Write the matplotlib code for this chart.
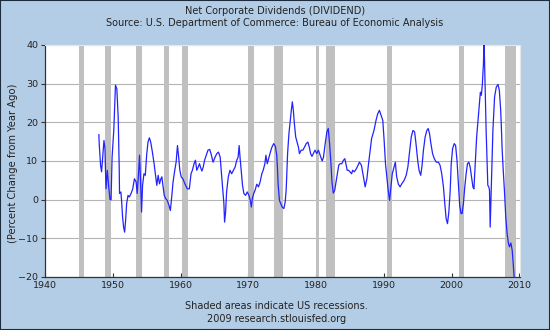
import matplotlib
matplotlib.use('Agg')
import matplotlib.pyplot as plt
from matplotlib.patches import Rectangle

# Net corporate dividends, percent change from year ago
years = [1947.95, 1948.0, 1948.2, 1948.35, 1948.5, 1948.7, 1948.85, 1949.0, 1949.2, 1949.4,
         1949.6, 1949.75, 1949.9, 1950.15, 1950.4, 1950.6, 1950.8, 1950.95, 1951.0, 1951.2,
         1951.3, 1951.45, 1951.6, 1951.75, 1951.9, 1952.05, 1952.25, 1952.45, 1952.7, 1952.95,
         1953.2, 1953.45, 1953.6, 1953.8, 1953.95, 1954.1, 1954.25, 1954.4, 1954.6, 1954.8,
         1955.0, 1955.2, 1955.4, 1955.6, 1955.85, 1956.1, 1956.35, 1956.5, 1956.7, 1956.9,
         1957.1, 1957.25, 1957.4, 1957.6, 1957.8, 1958.05, 1958.3, 1958.5, 1958.7, 1958.9,
         1959.15, 1959.35, 1959.55, 1959.7, 1959.9, 1960.1, 1960.35, 1960.65, 1961.0, 1961.3,
         1961.55, 1961.75, 1962.0, 1962.2, 1962.4, 1962.6, 1962.8, 1962.95, 1963.15, 1963.35,
         1963.55, 1963.8, 1964.05, 1964.3, 1964.5, 1964.8, 1965.1, 1965.35, 1965.6, 1965.85,
         1966.0, 1966.2, 1966.4, 1966.5, 1966.65, 1966.8, 1967.05, 1967.3, 1967.55, 1967.8,
         1968.05, 1968.3, 1968.5, 1968.65, 1968.8, 1969.0, 1969.15, 1969.35, 1969.6, 1969.85,
         1970.1, 1970.3, 1970.45, 1970.6, 1970.8, 1971.0, 1971.25, 1971.5, 1971.75, 1972.0,
         1972.2, 1972.45, 1972.6, 1972.8, 1973.0, 1973.2, 1973.45, 1973.75, 1974.0, 1974.2,
         1974.3, 1974.4, 1974.6, 1975.0, 1975.25, 1975.45, 1975.6, 1975.8, 1976.0, 1976.2,
         1976.35, 1976.5, 1976.65, 1976.8, 1977.0, 1977.2, 1977.4, 1977.55, 1977.8, 1978.05,
         1978.3, 1978.55, 1978.8, 1979.0, 1979.2, 1979.4, 1979.6, 1979.85, 1980.1, 1980.35,
         1980.6, 1980.9, 1981.1, 1981.35, 1981.6, 1981.8, 1982.0, 1982.2, 1982.35, 1982.55,
         1982.75, 1982.95, 1983.15, 1983.35, 1983.55, 1983.8, 1984.05, 1984.25, 1984.45, 1984.6,
         1984.8, 1985.0, 1985.25, 1985.4, 1985.65, 1985.95, 1986.2, 1986.4, 1986.7, 1987.0,
         1987.25, 1987.5, 1987.75, 1988.0, 1988.2, 1988.55, 1988.85, 1989.1, 1989.35, 1989.6,
         1989.85, 1990.05, 1990.25, 1990.45, 1990.65, 1990.85, 1991.05, 1991.25, 1991.5, 1991.7,
         1991.9, 1992.15, 1992.4, 1992.65, 1993.0, 1993.3, 1993.55, 1993.8, 1994.05, 1994.3,
         1994.55, 1994.75, 1995.0, 1995.2, 1995.45, 1995.65, 1995.85, 1996.1, 1996.35, 1996.55,
         1996.75, 1996.95, 1997.2, 1997.45, 1997.75, 1998.05, 1998.3, 1998.55, 1998.8, 1999.0,
         1999.2, 1999.4, 1999.6, 1999.8, 1999.95, 2000.15, 2000.4, 2000.6, 2000.8, 2001.0,
         2001.2, 2001.4, 2001.55, 2001.75, 2001.95, 2002.15, 2002.35, 2002.55, 2002.75, 2002.95,
         2003.15, 2003.3, 2003.5, 2003.7, 2003.9, 2004.1, 2004.25, 2004.4, 2004.55, 2004.7,
         2004.8, 2004.95, 2005.1, 2005.25, 2005.35, 2005.5, 2005.6, 2005.7, 2005.9, 2006.1,
         2006.35, 2006.6, 2006.85, 2007.05, 2007.25, 2007.35, 2007.45, 2007.6, 2007.8, 2008.0,
         2008.2, 2008.4, 2008.55, 2008.75, 2008.95, 2009.1, 2009.25]
pct_change = [16.8, 14.5, 8.9, 7.2, 10.6, 15.3, 13.2, 2.8, 7.6, 3.3,
              0.0, 0.0, 11.0, 17.9, 29.6, 28.7, 21.4, 8.4, 1.6, 2.0,
              -0.2, -4.5, -7.1, -8.4, -5.3, -1.0, 1.1, 0.7, 1.6, 2.8,
              5.4, 4.6, 1.6, 6.7, 11.5, 5.0, -3.2, 3.7, 6.7, 6.3,
              11.5, 14.9, 16.0, 14.9, 12.3, 9.3, 5.9, 3.7, 6.3, 4.1,
              5.4, 5.9, 3.7, 1.1, 0.3, -0.2, -1.5, -2.8, 0.7, 4.6,
              7.6, 9.7, 14.0, 11.5, 7.6, 5.9, 5.4, 4.1, 2.8, 2.8,
              6.7, 7.6, 9.3, 10.2, 7.6, 8.4, 9.3, 8.4, 7.4, 8.4,
              10.2, 11.5, 12.8, 13.0, 11.9, 9.7, 11.0, 11.9, 12.3, 11.0,
              7.6, 3.3, -1.0, -5.8, -3.2, 2.0, 5.9, 7.6, 6.7, 7.6,
              8.4, 10.2, 11.0, 14.0, 10.6, 6.7, 3.7, 1.6, 1.1, 2.0,
              1.1, -0.2, -1.9, 0.3, 1.6, 2.4, 4.0, 3.3, 4.6, 6.7,
              7.6, 9.3, 11.5, 9.3, 10.6, 11.9, 13.4, 14.5, 13.8, 11.5,
              8.4, 4.1, -0.2, -1.9, -2.3, -0.6, 2.8, 11.9, 17.1, 20.5,
              23.1, 25.3, 23.1, 19.7, 16.2, 14.9, 13.6, 11.9, 12.8, 12.8,
              13.6, 14.5, 14.9, 13.6, 11.9, 11.2, 11.9, 12.8, 11.9, 12.8,
              11.5, 10.0, 11.0, 14.5, 17.5, 18.4, 14.5, 9.3, 4.6, 1.7,
              2.4, 4.6, 6.7, 8.9, 9.3, 9.3, 10.2, 10.6, 8.9, 7.6,
              7.6, 7.2, 6.7, 7.6, 7.2, 8.0, 8.9, 9.7, 8.9, 5.9,
              3.3, 5.4, 9.3, 12.8, 15.8, 17.9, 20.5, 22.2, 23.1, 21.8,
              20.5, 15.3, 9.3, 5.9, 2.4, -0.2, 3.3, 6.7, 8.4, 9.7,
              5.9, 4.0, 3.3, 4.1, 5.0, 6.3, 8.4, 12.3, 16.2, 17.9,
              17.5, 14.5, 10.2, 7.6, 6.3, 8.9, 12.8, 16.2, 17.9, 18.4,
              17.1, 14.5, 11.9, 10.6, 9.7, 9.7, 8.9, 6.7, 3.3, -1.0,
              -4.9, -6.2, -3.2, 2.4, 9.3, 13.2, 14.5, 14.0, 10.2, 4.1,
              -1.5, -3.6, -3.6, -1.0, 3.3, 6.7, 9.3, 9.7, 8.4, 5.9,
              3.3, 2.8, 9.3, 16.2, 20.5, 24.8, 27.8, 27.0, 30.0, 35.1,
              41.0, 30.0, 17.9, 9.3, 3.7, 3.3, 2.4, -7.1, 5.9, 17.9,
              26.6, 29.1, 29.8, 28.3, 23.1, 18.8, 13.6, 8.4, 2.4, -4.5,
              -8.8, -11.4, -12.2, -11.2, -13.1, -16.6, -20.5]

# NBER recessions (start, end) in decimal years
rec_start = [1945.08, 1948.83, 1953.5, 1957.58, 1960.25, 1969.92, 1973.83, 1980.0, 1981.5, 1990.5, 2001.17, 2007.92]
rec_end = [1945.75, 1949.75, 1954.33, 1958.25, 1961.08, 1970.83, 1975.17, 1980.5, 1982.83, 1991.17, 2001.83, 2009.5]

bg = '#B4CDE6'
txt = '#222222'
fs = 7.0

fig = plt.figure(figsize=(5.5, 3.3), dpi=100, facecolor=bg)
ax = fig.add_axes([45/550, 1 - 277/330, 475/550, 232/330])
ax.set_facecolor('white')

for s, e in zip(rec_start, rec_end):
    ax.axvspan(s, e, color='#C0C0C0', lw=0, zorder=1)

ax.plot(years, pct_change, color='#2323FF', lw=0.9, zorder=3)

ax.set_xlim(1940, 2010.1)
ax.set_ylim(-20, 40)
ax.set_xticks(range(1940, 2011, 10))
ax.set_yticks(range(-20, 41, 10))
ax.yaxis.grid(True, color='#B4B4B4', lw=0.8, zorder=0)
ax.set_axisbelow(True)

for side in ['top', 'right']:
    ax.spines[side].set_color('#E6E6E6')
    ax.spines[side].set_linewidth(0.8)
for side in ['left', 'bottom']:
    ax.spines[side].set_color('#333333')
    ax.spines[side].set_linewidth(0.9)

ax.tick_params(axis='y', direction='out', length=3, width=0.8, color='#333333',
               labelsize=6.8, labelcolor=txt, pad=2)
ax.tick_params(axis='x', direction='in', length=3, width=0.8, color='#333333',
               labelsize=6.8, labelcolor=txt, pad=3)

ax.set_ylabel('(Percent Change from Year Ago)', fontsize=7.2, color=txt)
ax.yaxis.set_label_coords(-0.057, 0.49)

fig.text(0.5, 1 - 10.5/330, 'Net Corporate Dividends (DIVIDEND)', ha='center', va='center',
         fontsize=fs, color=txt)
fig.text(0.5, 1 - 23/330, 'Source: U.S. Department of Commerce: Bureau of Economic Analysis',
         ha='center', va='center', fontsize=fs, color=txt)
fig.text(0.503, 1 - 306/330, 'Shaded areas indicate US recessions.', ha='center', va='center',
         fontsize=fs, color=txt)
fig.text(0.503, 1 - 319/330, '2009 research.stlouisfed.org', ha='center', va='center',
         fontsize=fs, color=txt)

fig.patches.append(Rectangle((0, 0), 1, 1, transform=fig.transFigure, fill=False,
                             edgecolor='#1C2C3C', lw=1.5))

fig.savefig('out.png', dpi=100, facecolor=bg)
